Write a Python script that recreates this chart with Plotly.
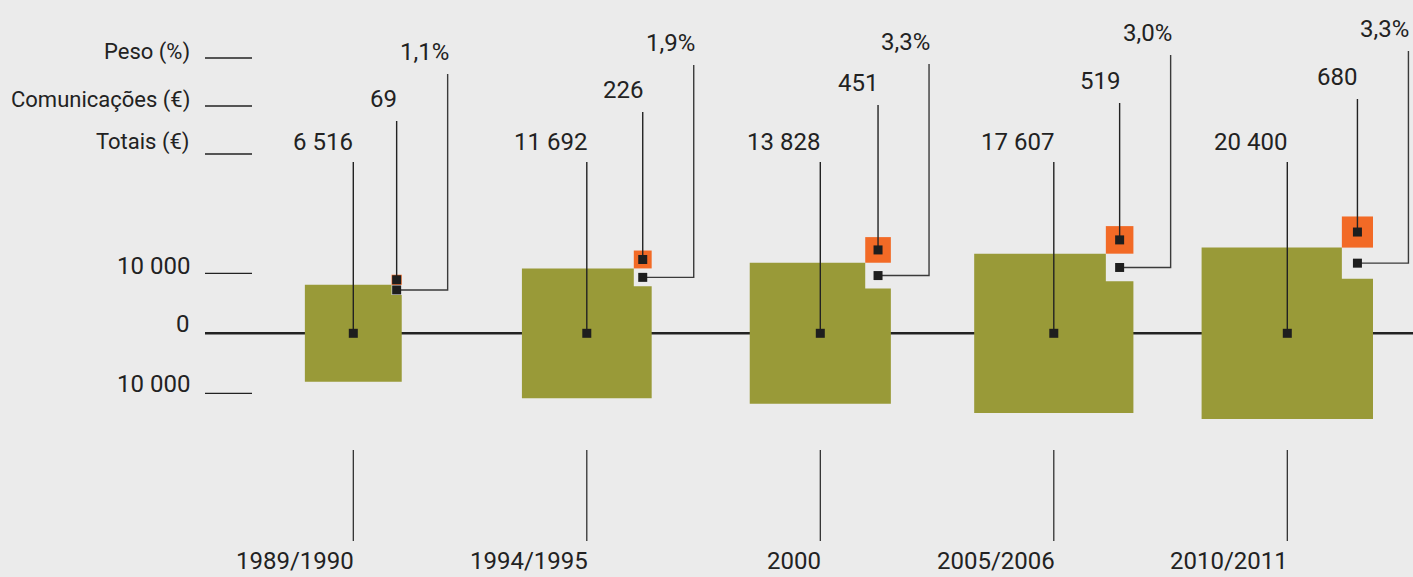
import math
import plotly.graph_objects as go

# ---------------- data ----------------
categories = ["1989/1990", "1994/1995", "2000", "2005/2006", "2010/2011"]
totals = [6516, 11692, 13828, 17607, 20400]          # Totais (€)
comms = [69, 226, 451, 519, 680]                      # Comunicações (€)
peso = [1.1, 1.9, 3.3, 3.0, 3.3]                      # Peso (%)
row_labels = ["Peso (%)", "Comunicações (€)", "Totais (€)"]
scale_ticks = [10000, 0, -10000]
scale_tick_text = ["10 000", "0", "10 000"]

# ---------------- layout geometry (pixels) ----------------
W, H = 1413, 577
X0_PX, X_STEP_PX = 353.3, 233.5          # px position of first category, spacing
Y0_PX, PX_PER_UNIT = 333.3, 60 / 10000   # px of zero line, px per euro on y
SIDE_K = 1.2                             # px of square side per sqrt(euro)

BG = "#ebebeb"
GREEN = "#999a38"
ORANGE = "#f26a26"
INK = "#222222"
FONT = "Roboto"
FS_NUM = 24
FS_LAB = 22

x_range = [-X0_PX / X_STEP_PX, (W - X0_PX) / X_STEP_PX]
y_range = [-(H - Y0_PX) / PX_PER_UNIT, Y0_PX / PX_PER_UNIT]


def dx(px):   # pixel length -> x units
    return px / X_STEP_PX


def dy(px):   # pixel length -> y units
    return px / PX_PER_UNIT


def X(px):    # absolute px -> x data
    return (px - X0_PX) / X_STEP_PX


def Y(px):    # absolute px -> y data
    return (Y0_PX - px) / PX_PER_UNIT


# label heights (px from top) per category
comm_label_px = [99, 90, 83, 81, 77]
peso_label_px = [52, 43, 42, 33, 29]
total_label_px = 142
line_gap = 22          # from label centre down to start of leader line
pct_leader_px = 51     # horizontal run of the share leader

fig = go.Figure()

# zero axis line
fig.add_trace(go.Scatter(x=[X(205), X(W)], y=[0, 0], mode="lines",
                         line=dict(color=INK, width=2.6), hoverinfo="skip"))

# left tick stubs
row_px = [58, 106, 154]
stub_ys = [Y(p) for p in row_px] + [t for t in scale_ticks if t != 0]
for yv in stub_ys:
    fig.add_trace(go.Scatter(x=[X(205), X(252)], y=[yv, yv], mode="lines",
                             line=dict(color=INK, width=1.3), hoverinfo="skip"))

annotations = []


def txt(x, y, text, size=FS_NUM, yanchor="middle"):
    annotations.append(dict(x=x, y=y, text=text, xanchor="right", yanchor=yanchor,
                            showarrow=False, xref="x", yref="y", borderpad=0,
                            font=dict(family=FONT, size=size, color=INK)))


for lab, p in zip(row_labels, [52, 100, 142]):
    txt(X(191), Y(p), lab, FS_LAB)
for t, s in zip(scale_ticks, scale_tick_text):
    off = 7 if t > 0 else 9
    txt(X(191), t + dy(off), s)

for i, (cat, tot, com, pc) in enumerate(zip(categories, totals, comms, peso)):
    s = SIDE_K * math.sqrt(tot)          # side in px
    n = s * math.sqrt(pc / 100)           # notch side in px (area share)
    L, R = i - dx(s / 2), i + dx(s / 2)
    B, T = -dy(s / 2), dy(s / 2)
    nx, ny = dx(n), dy(n)
    # green square with notch
    fig.add_trace(go.Scatter(
        x=[L, R, R, R - nx, R - nx, L, L],
        y=[B, B, T - ny, T - ny, T, T, B],
        mode="lines", fill="toself", fillcolor=GREEN, line=dict(width=0),
        hoverinfo="skip"))
    # orange square (communications) lifted above the notch
    fig.add_trace(go.Scatter(
        x=[R - nx, R, R, R - nx, R - nx],
        y=[T, T, T + ny, T + ny, T],
        mode="lines", fill="toself", fillcolor=ORANGE, line=dict(width=0),
        hoverinfo="skip"))

    ocx, ocy = R - nx / 2, T + ny / 2       # orange centre
    ncx, ncy = R - nx / 2, T - ny / 2       # notch centre
    pct_x = ncx + dx(pct_leader_px)

    # leader lines
    fig.add_trace(go.Scatter(x=[i, i], y=[0, Y(total_label_px + line_gap - 2)], mode="lines",
                             line=dict(color=INK, width=1.4), hoverinfo="skip"))
    fig.add_trace(go.Scatter(x=[ocx, ocx], y=[ocy, Y(comm_label_px[i] + line_gap)], mode="lines",
                             line=dict(color=INK, width=1.4), hoverinfo="skip"))
    fig.add_trace(go.Scatter(x=[ncx, pct_x, pct_x], y=[ncy, ncy, Y(peso_label_px[i] + line_gap)],
                             mode="lines", line=dict(color="#3a3a3a", width=1.4), hoverinfo="skip"))
    fig.add_trace(go.Scatter(x=[i, i], y=[Y(450), Y(541)], mode="lines",
                             line=dict(color=INK, width=1.2), hoverinfo="skip"))

    # markers
    fig.add_trace(go.Scatter(x=[i, ocx, ncx], y=[0, ocy, ncy], mode="markers",
                             marker=dict(symbol="square", size=9, color="#1e1e1e",
                                         line=dict(width=0)), hoverinfo="skip"))

    # texts
    txt(i + dx(1), Y(total_label_px), f"{tot:,}".replace(",", " "))
    txt(ocx + dx(1), Y(comm_label_px[i]), f"{com:,}".replace(",", " "))
    txt(pct_x + dx(2), Y(peso_label_px[i]), f"{pc:.1f}".replace(".", ",") + "%")
    txt(i + dx(2), Y(576), cat, yanchor="bottom")

fig.update_layout(
    width=W, height=H,
    margin=dict(l=0, r=0, t=0, b=0),
    paper_bgcolor=BG, plot_bgcolor=BG,
    showlegend=False,
    font=dict(family=FONT, size=FS_NUM, color=INK),
    xaxis=dict(range=x_range, visible=False, fixedrange=True),
    yaxis=dict(range=y_range, visible=False, fixedrange=True),
    annotations=annotations,
)

fig.write_html("out.html")
